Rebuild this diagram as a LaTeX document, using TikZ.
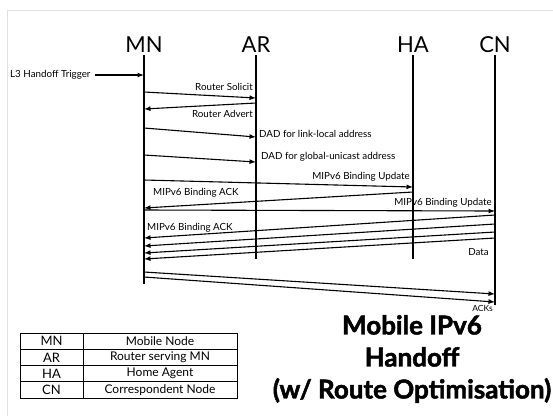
\documentclass[tikz,border=0pt]{standalone}
\usepackage{fontspec}
\setmainfont{Lato}
\newfontfamily\titlefont{Lato}[BoldFeatures={FakeBold=1.8}]
\usetikzlibrary{arrows.meta}
\tikzset{
	life/.style={line width=1.4pt},
	msg/.style={line width=1.1pt,-{Latex[length=6.5pt,width=5pt]}},
	lbl/.style={font=\fontsize{9.8}{11}\selectfont,inner sep=0pt},
	ent/.style={font=\fontsize{22}{26}\selectfont,inner sep=2pt},
	cell/.style={inner sep=0pt},
}
\begin{document}
\begin{tikzpicture}[x=1pt,y=-1pt]
	\useasboundingbox (0,0) rectangle (553,416);
	\draw[black!12,line width=1pt] (553,10) -- (7,10) -- (7,416);
	\foreach \n/\x/\b in {MN/144/284,AR/256/259,HA/413/259,CN/495/305}
	{
		\node[ent] (\n) at (\x,45) {\n};
		\coordinate (\n end) at (\x,\b);
		\draw[life] (\n.south) -- (\n end);
	}
	\node[lbl,anchor=west] (trig) at (10,75) {L3 Handoff Trigger};
	\draw[msg] ([xshift=4pt]trig.east) -- (MN |- trig);
	\foreach \f/\yf/\t/\yt in {MN/92/AR/98,AR/103/MN/109,MN/128/AR/137,MN/155/AR/162,
		MN/180/HA/187,HA/192/MN/208,MN/210/CN/211,CN/215/MN/238,CN/224/MN/246,
		CN/232/MN/253,CN/238/MN/259,MN/272/CN/294,MN/277/CN/302}
	{
		\draw[msg] (\f |- 0,\yf) -- (\t |- 0,\yt);
	}
	\node[lbl,anchor=east] (rs) at (253,87) {Router Solicit};
	\node[lbl,anchor=east] (ra) at (253,114) {Router Advert};
	\node[lbl,anchor=west] (dadl) at (259,134) {DAD for link-local address};
	\node[lbl,anchor=west] (dadg) at (261,157) {DAD for global-unicast address};
	\node[lbl,anchor=east] (buha) at (410,177) {MIPv6 Binding Update};
	\node[lbl,anchor=west] (ackha) at (153,193) {MIPv6 Binding ACK};
	\node[lbl,anchor=east] (bucn) at (492,203) {MIPv6 Binding Update};
	\node[lbl,anchor=west] (ackcn) at (147,228) {MIPv6 Binding ACK};
	\node[lbl,anchor=east] (data) at (489,252) {Data};
	\node[lbl,anchor=east,font=\fontsize{8.5}{10}\selectfont] (acks) at (493,308) {ACKs};
	\draw[line width=1pt] (20,333) rectangle (237,398);
	\draw[line width=1pt] (83,333) -- (83,398);
	\foreach \k/\d [count=\i] in {MN/Mobile Node,AR/Router serving MN,HA/Home Agent,CN/Correspondent Node}
	{
		\node[cell,font=\fontsize{13}{15}\selectfont] (k\i) at (51.5,333+16.25*\i-8.1) {\k};
		\node[cell,font=\fontsize{12}{14}\selectfont] (d\i) at (160,333+16.25*\i-8.1) {\d};
	}
	\foreach \i in {1,2,3}
	{
		\draw[line width=1pt] (20,333+16.25*\i) -- (237,333+16.25*\i);
	}
	\node[font=\titlefont\fontsize{26}{32}\selectfont\bfseries,align=center] (title) at (412,359)
		{Mobile IPv6\\Handoff\\(w/ Route Optimisation)};
\end{tikzpicture}
\end{document}
